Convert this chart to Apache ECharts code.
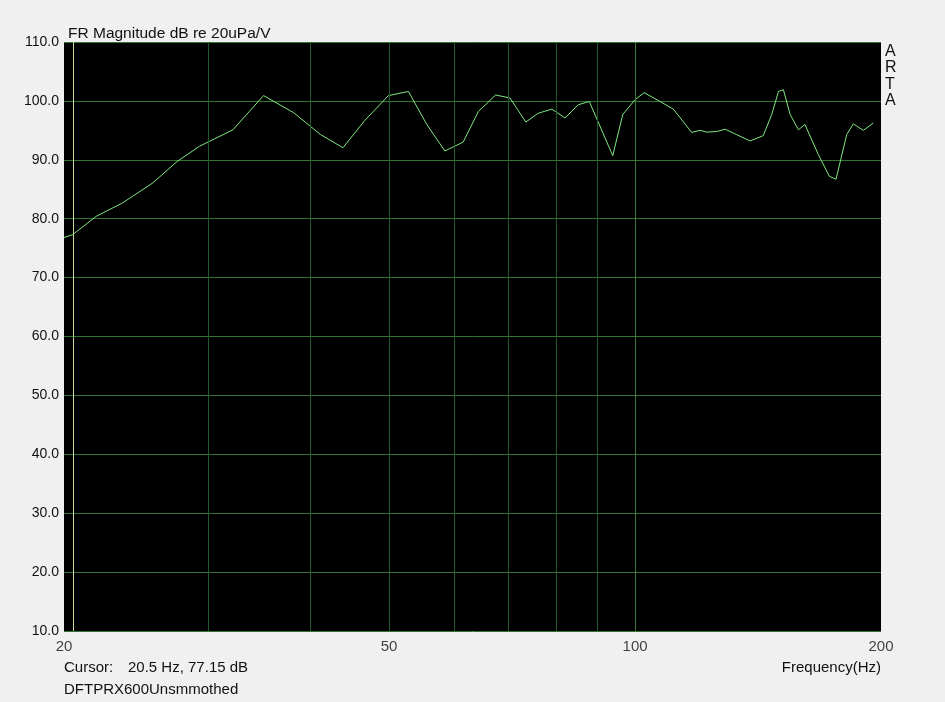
<!DOCTYPE html>
<html>
<head>
<meta charset="utf-8">
<script src="https://cdn.jsdelivr.net/npm/echarts@6/dist/echarts.min.js"></script>
<style>
html,body{margin:0;padding:0;background:#f0f0f0;}
#chart{width:945px;height:702px;}
</style>
</head>
<body>
<div id="chart"></div>
<script>
// Frequency response (Hz, dB)
const freqs = [20, 20.5, 21.9, 23.6, 25.7, 27.5, 29.3, 32.2, 35.1, 38.2, 41.2, 43.9, 46.7, 49.9, 52.8, 55.6, 58.5, 61.6, 64.3, 67.5, 70.3, 73.5, 76.1, 79.1, 82.1, 85.2, 87.9, 93.9, 96.6, 100, 102.6, 107.3, 111.4, 117.3, 120.1, 122.4, 125.9, 128.9, 133.2, 138.3, 143.5, 147.0, 149.8, 151.9, 154.8, 158.5, 161.4, 167.6, 172.9, 176.2, 181.6, 185.0, 190.3, 195.7];
const levels = [76.8, 77.3, 80.4, 82.7, 86.1, 89.7, 92.3, 95.1, 100.9, 98.0, 94.3, 92.05, 96.7, 100.9, 101.6, 96.0, 91.5, 93.0, 98.2, 101.0, 100.5, 96.4, 97.9, 98.6, 97.1, 99.35, 99.9, 90.7, 97.7, 100.2, 101.4, 99.9, 98.6, 94.65, 95.0, 94.7, 94.8, 95.2, 94.26, 93.2, 94.1, 97.7, 101.6, 101.9, 97.7, 95.1, 96.0, 90.9, 87.2, 86.7, 94.3, 96.1, 95.0, 96.25];
const minorGridFreqs = [30, 40, 50, 60, 70, 80, 90];
const majorGridFreqs = [100];
const xTickLabels = [20, 50, 100, 200];
const cursorFreq = 20.5;
const yMin = 10, yMax = 110, yStep = 10;
const titleText = 'FR Magnitude dB re 20uPa/V';
const cursorLabel = 'Cursor:';
const cursorValue = '20.5 Hz, 77.15 dB';
const traceName = 'DFTPRX600Unsmmothed';
const xAxisName = 'Frequency(Hz)';

const font = 'Arial, "Liberation Sans", sans-serif';
const chart = echarts.init(document.getElementById('chart'), null, {renderer: 'canvas'});

const option = {
  backgroundColor: '#f0f0f0',
  animation: false,
  title: {
    text: titleText, left: 63, top: 21,
    textStyle: {fontFamily: font, fontSize: 15.5, fontWeight: 'normal', color: '#111'}
  },
  grid: {left: 64, top: 42, width: 817, height: 589, show: true, backgroundColor: '#000', borderWidth: 0},
  xAxis: {
    type: 'log', logBase: 10, min: 20, max: 200,
    axisLine: {show: false}, axisTick: {show: false}, axisLabel: {show: false}, splitLine: {show: false}
  },
  yAxis: {
    type: 'value', min: yMin, max: yMax, interval: yStep,
    axisLine: {show: false}, axisTick: {show: false},
    axisLabel: {margin: 5, fontFamily: font, fontSize: 14, color: '#111', formatter: v => v.toFixed(1)},
    splitLine: {show: true, lineStyle: {color: '#347434', width: 1}}
  },
  graphic: [
    {type: 'text', left: 64, top: 660, style: {text: cursorLabel, font: '15px ' + font, fill: '#111'}},
    {type: 'text', left: 128, top: 660, style: {text: cursorValue, font: '15px ' + font, fill: '#111'}},
    {type: 'text', left: 64, top: 682, style: {text: traceName, font: '15px ' + font, fill: '#111'}},
    {type: 'text', right: 64, top: 660, style: {text: xAxisName, font: '15px ' + font, fill: '#111'}},
    {type: 'text', left: 885, top: 43, style: {text: 'A\nR\nT\nA', font: '16px ' + font, lineHeight: 16.5, fill: '#111', align: 'left'}}
  ],
  series: [
    {
      type: 'line', data: [], silent: true,
      markLine: {
        silent: true, symbol: 'none', label: {show: false}, animation: false,
        lineStyle: {color: '#1f5a2c', width: 1, type: 'solid'},
        data: minorGridFreqs.map(f => ({xAxis: f}))
      }
    },
    {
      type: 'line', data: [], silent: true,
      markLine: {
        silent: true, symbol: 'none', label: {show: false}, animation: false,
        lineStyle: {color: '#3a7a3a', width: 1, type: 'solid'},
        data: majorGridFreqs.map(f => ({xAxis: f}))
      }
    },
    {
      type: 'line', data: [], silent: true,
      markLine: {
        silent: true, symbol: 'none', label: {show: false}, animation: false,
        lineStyle: {color: '#c8d890', width: 1, type: 'solid'},
        data: [{xAxis: cursorFreq}]
      }
    },
    {
      type: 'line', silent: true, symbol: 'none', clip: true,
      lineStyle: {color: '#80e880', width: 1},
      data: freqs.map((f, i) => [f, levels[i]])
    },
    {
      type: 'scatter', silent: true, symbolSize: 0, clip: false,
      data: xTickLabels.map(f => [f, yMin]),
      label: {show: true, position: 'bottom', distance: 8, fontFamily: font, fontSize: 15, color: '#111',
        formatter: p => String(p.value[0])}
    }
  ]
};
chart.setOption(option);
</script>
</body>
</html>
